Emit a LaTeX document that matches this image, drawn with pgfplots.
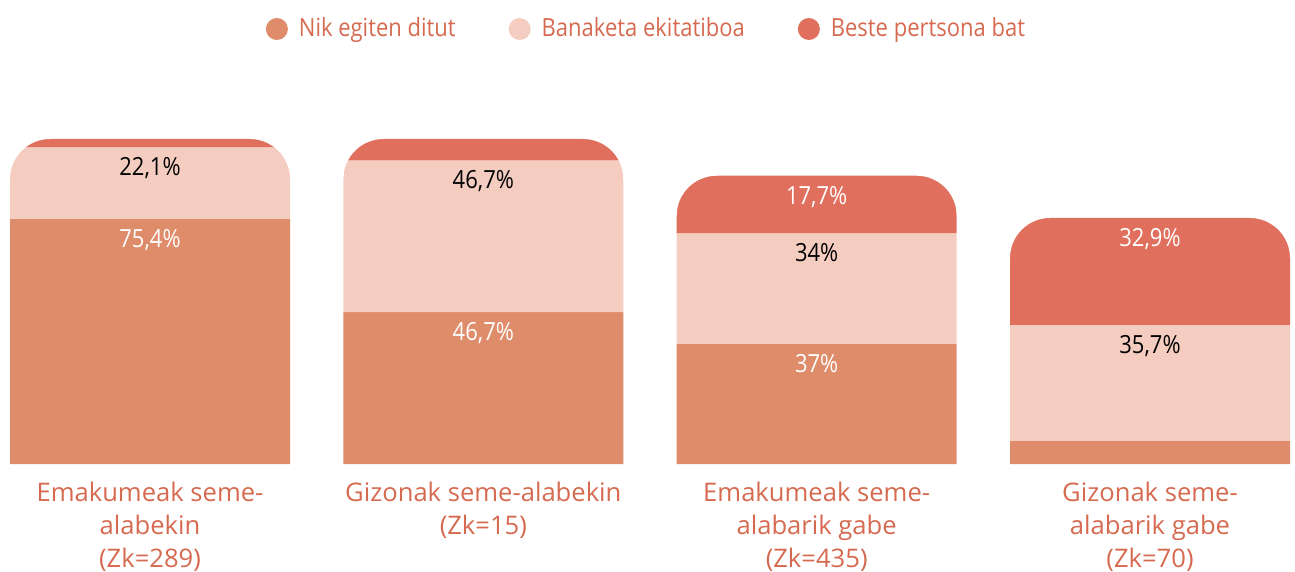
\documentclass[border=0pt]{standalone}
\usepackage{fontspec}
\setmainfont{Open Sans}[FakeStretch=0.88]
\newfontfamily\catfont{Open Sans}
\usepackage{pgfplots}
\pgfplotsset{compat=1.18}
\definecolor{nikc}{RGB}{222,140,106}
\definecolor{banc}{RGB}{245,205,192}
\definecolor{besc}{RGB}{224,112,93}
\definecolor{labc}{RGB}{214,106,80}
\newcommand{\rcl}[2]{%
 \fill[white] ([xshift=-1pt,yshift=1pt]axis cs:#1,#2) -- ([xshift=20pt,yshift=1pt]axis cs:#1,#2) -- ([xshift=20pt]axis cs:#1,#2) arc[start angle=90,end angle=180,radius=20pt] -- ([xshift=-1pt,yshift=-20pt]axis cs:#1,#2) -- cycle;}
\newcommand{\rcr}[2]{%
 \fill[white] ([xshift=1pt,yshift=1pt]axis cs:#1,#2) -- ([xshift=-20pt,yshift=1pt]axis cs:#1,#2) -- ([xshift=-20pt]axis cs:#1,#2) arc[start angle=90,end angle=0,radius=20pt] -- ([xshift=1pt,yshift=-20pt]axis cs:#1,#2) -- cycle;}
\pgfplotsset{seg/.style={fill=#1, draw=none, stack plots=y, bar shift=0pt,
  nodes near coords, point meta=explicit symbolic,
  legend image code/.code={\fill[#1] (0pt,0) circle (5.5pt);}},
  lab/.style={every node near coord/.append style={anchor=north, inner sep=0pt, yshift=-5pt, font=\fontsize{12.5}{15}\selectfont, text=#1}}}
\begin{document}
\begin{tikzpicture}
\begin{axis}[
 scale only axis, width=647.5pt, height=162.5pt,
 xmin=-0.45, xmax=3.435, ymin=0, ymax=100,
 ybar, bar shift=0pt, bar width=140pt,
 axis line style={draw=none}, tick style={draw=none},
 ytick=\empty, xtick={0,1,2,3},
 xticklabels={{Emakumeak seme-\\alabekin\\(Zk=289)}, {Gizonak seme-alabekin\\(Zk=15)}, {Emakumeak seme-\\alabarik gabe\\(Zk=435)}, {Gizonak seme-\\alabarik gabe\\(Zk=70)}},
 xticklabel style={align=center, text=labc, font=\catfont\fontsize{12.8}{16.5}\selectfont, anchor=north, inner sep=0pt, yshift=-4.5pt},
 clip=false,
 legend columns=3,
 legend style={at={(axis description cs:0.5,1)}, anchor=center, yshift=55pt, draw=none, fill=none, inner xsep=0pt, inner ysep=7pt, font=\fontsize{12.5}{15}\selectfont, text=labc,
   /tikz/every odd column/.append style={column sep=3.5pt},
   /tikz/every even column/.append style={column sep=24.5pt}},
]
\addplot[seg=nikc, lab=white] coordinates {(0,75.4) [75,4\%] (1,46.7) [46,7\%] (2,37) [37\%] (3,7.1) [\relax]};
\addplot[seg=banc, lab=black] coordinates {(0,22.1) [22,1\%] (1,46.7) [46,7\%] (2,34) [34\%] (3,35.7) [35,7\%]};
\addplot[seg=besc, lab=white] coordinates {(0,2.5) [\relax] (1,6.6) [\relax] (2,17.7) [17,7\%] (3,32.9) [32,9\%]};
\legend{Nik egiten ditut, Banaketa ekitatiboa, Beste pertsona bat}
\rcl{-0.42}{100}\rcr{0.42}{100}
\rcl{0.58}{100}\rcr{1.42}{100}
\rcl{1.58}{88.7}\rcr{2.42}{88.7}
\rcl{2.58}{75.7}\rcr{3.42}{75.7}
\end{axis}
\end{tikzpicture}
\end{document}
